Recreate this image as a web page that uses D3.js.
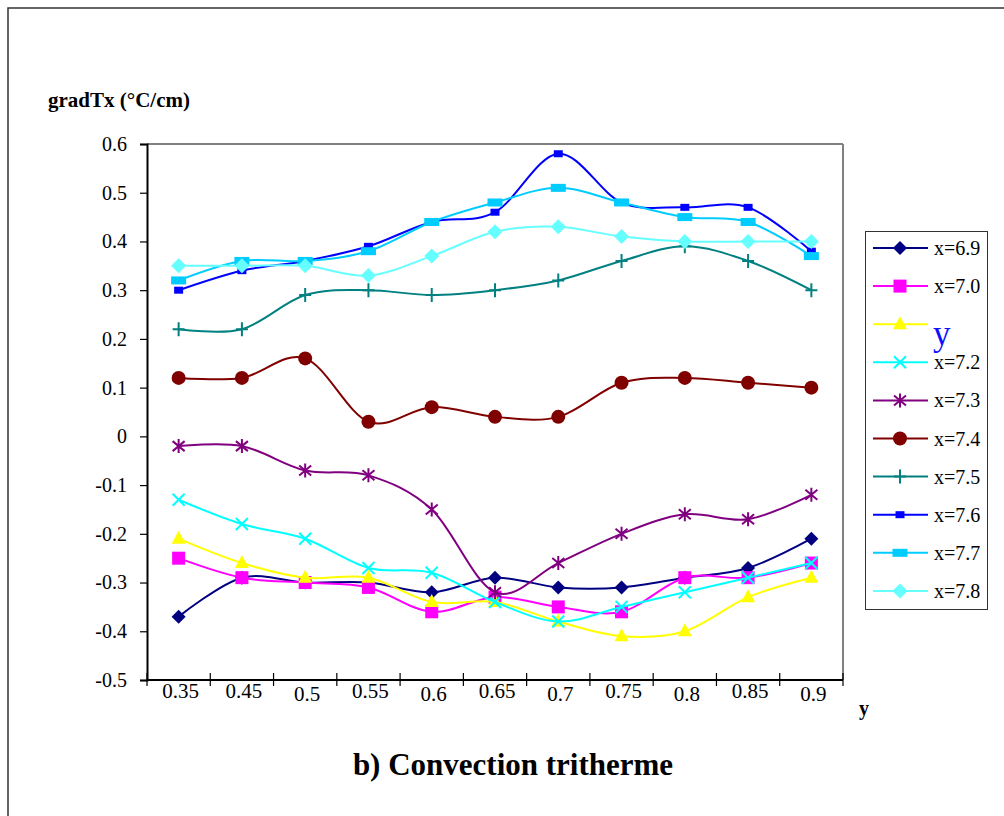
<!DOCTYPE html>
<html>
<head>
<meta charset="utf-8">
<script src="https://cdn.jsdelivr.net/npm/d3@7"></script>
<style>
  html, body { margin: 0; padding: 0; background: #fff; }
  svg { display: block; }
  svg text { font-family: "Times New Roman", "Liberation Serif", Tinos, "DejaVu Serif", serif !important; }
</style>
</head>
<body>
<svg id="chart" width="1004" height="816"></svg>
<script>
// ---- data ----
const categories = ["0.35","0.45","0.5","0.55","0.6","0.65","0.7","0.75","0.8","0.85","0.9"];
const yTicks = [-0.5,-0.4,-0.3,-0.2,-0.1,0,0.1,0.2,0.3,0.4,0.5,0.6];
const seriesNames = ["x=6.9","x=7.0","y","x=7.2","x=7.3","x=7.4","x=7.5","x=7.6","x=7.7","x=7.8"];
const x69 = [-0.37,-0.29,-0.30,-0.30,-0.32,-0.29,-0.31,-0.31,-0.29,-0.27,-0.21];
const x70 = [-0.25,-0.29,-0.30,-0.31,-0.36,-0.33,-0.35,-0.36,-0.29,-0.29,-0.26];
const x71 = [-0.21,-0.26,-0.29,-0.29,-0.34,-0.34,-0.38,-0.41,-0.40,-0.33,-0.29];
const x72 = [-0.13,-0.18,-0.21,-0.27,-0.28,-0.34,-0.38,-0.35,-0.32,-0.29,-0.26];
const x73 = [-0.02,-0.02,-0.07,-0.08,-0.15,-0.32,-0.26,-0.20,-0.16,-0.17,-0.12];
const x74 = [0.12,0.12,0.16,0.03,0.06,0.04,0.04,0.11,0.12,0.11,0.10];
const x75 = [0.22,0.22,0.29,0.30,0.29,0.30,0.32,0.36,0.39,0.36,0.30];
const x76 = [0.30,0.34,0.36,0.39,0.44,0.46,0.58,0.48,0.47,0.47,0.38];
const x77 = [0.32,0.36,0.36,0.38,0.44,0.48,0.51,0.48,0.45,0.44,0.37];
const x78 = [0.35,0.35,0.35,0.33,0.37,0.42,0.43,0.41,0.40,0.40,0.40];
const seriesValues = [x69,x70,x71,x72,x73,x74,x75,x76,x77,x78];
const seriesColors = ["#000080","#FF00FF","#FFFF00","#00FFFF","#800080","#800000","#008080","#0000FF","#00CCFF","#66FFFF"];
const seriesMarkers = ["diamond","square","triangle","x","star","circle","plus","smallrect","widerect","diamond2"];

const FONT = "'Times New Roman', 'Liberation Serif', 'DejaVu Serif', serif";

// ---- layout ----
const svg = d3.select("#chart").attr("font-family", FONT);
const L = 147, R = 843, T = 144, B = 680;

// outer frame
svg.append("rect").attr("x", 8).attr("y", 8).attr("width", 1010).attr("height", 830)
  .attr("fill", "none").attr("stroke", "#333").attr("stroke-width", 1.5);

const x = d3.scaleBand().domain(categories).range([L, R]).padding(0);
const y = d3.scaleLinear().domain([-0.5, 0.6]).range([B, T]);

// plot border (top/right gray)
svg.append("line").attr("x1", L).attr("x2", R).attr("y1", T).attr("y2", T).attr("stroke", "#808080").attr("stroke-width", 2);
svg.append("line").attr("x1", R).attr("x2", R).attr("y1", T).attr("y2", B).attr("stroke", "#808080").attr("stroke-width", 2);

// y axis
const yAxis = d3.axisLeft(y).tickValues(yTicks).tickSize(7).tickPadding(13)
  .tickFormat(d => Math.abs(d) < 1e-9 ? "0" : d.toFixed(1));
const gy = svg.append("g").attr("transform", `translate(${L},0)`).call(yAxis);
gy.attr("font-family", FONT);
gy.select(".domain").attr("stroke", "#000").attr("stroke-width", 2);
gy.selectAll(".tick line").attr("stroke", "#000").attr("stroke-width", 1.2);
gy.selectAll(".tick text").attr("font-size", 20).attr("font-family", FONT).attr("fill", "#000");

// x axis
const gx = svg.append("g").attr("transform", `translate(0,${B})`);
gx.append("line").attr("x1", L).attr("x2", R).attr("y1", 0).attr("y2", 0).attr("stroke", "#000").attr("stroke-width", 2);
const boundaries = categories.map(c => x(c)).concat([R]);
gx.selectAll("line.tk").data(boundaries).enter().append("line").attr("class", "tk")
  .attr("x1", d => d).attr("x2", d => d).attr("y1", -7).attr("y2", 6)
  .attr("stroke", "#000").attr("stroke-width", 1.2);
gx.selectAll("text.lbl").data(categories).enter().append("text").attr("class", "lbl")
  .attr("x", d => x(d) + x.bandwidth() / 2 + 2)
  .attr("y", d => d.length > 3 ? 18 : 21)
  .attr("text-anchor", "middle").attr("font-size", 21).attr("fill", "#000").text(d => d);

// axis titles
svg.append("text").attr("x", 48).attr("y", 107).attr("font-size", 21).attr("font-weight", "bold").text("gradTx (°C/cm)");
svg.append("text").attr("x", 859).attr("y", 715).attr("font-size", 20).attr("font-weight", "bold").text("y");
svg.append("text").attr("x", 513).attr("y", 775).attr("text-anchor", "middle").attr("font-size", 31).attr("font-weight", "bold").text("b) Convection tritherme");

// markers
function drawMarker(g, type, color) {
  switch (type) {
    case "diamond":
      g.append("path").attr("d", "M0,-7L7,0L0,7L-7,0Z").attr("fill", color); break;
    case "diamond2":
      g.append("path").attr("d", "M0,-7.5L7.5,0L0,7.5L-7.5,0Z").attr("fill", color); break;
    case "square":
      g.append("rect").attr("x", -6.5).attr("y", -6.5).attr("width", 13).attr("height", 13).attr("fill", color); break;
    case "triangle":
      g.append("path").attr("d", "M0,-8L7,5L-7,5Z").attr("fill", color); break;
    case "x":
      g.append("path").attr("d", "M-6,-6L6,6M-6,6L6,-6").attr("stroke", color).attr("stroke-width", 2).attr("fill", "none"); break;
    case "star":
      g.append("path").attr("d", "M-6,-5L6,5M-6,5L6,-5M0,-7L0,7").attr("stroke", color).attr("stroke-width", 2).attr("fill", "none"); break;
    case "circle":
      g.append("circle").attr("r", 7).attr("fill", color); break;
    case "plus":
      g.append("path").attr("d", "M-6,0L6,0M0,-7L0,7").attr("stroke", color).attr("stroke-width", 2).attr("fill", "none"); break;
    case "smallrect":
      g.append("rect").attr("x", -4.5).attr("y", -3.5).attr("width", 9).attr("height", 7).attr("fill", color); break;
    case "widerect":
      g.append("rect").attr("x", -7.5).attr("y", -4).attr("width", 15).attr("height", 8).attr("fill", color); break;
  }
}

// series
const line = d3.line()
  .x((d, i) => x(categories[i]) + x.bandwidth() / 2)
  .y(d => y(d))
  .curve(d3.curveCatmullRom.alpha(0));

seriesValues.forEach((vals, si) => {
  const g = svg.append("g");
  g.append("path").datum(vals).attr("d", line).attr("fill", "none")
    .attr("stroke", seriesColors[si]).attr("stroke-width", 2);
  vals.forEach((v, i) => {
    const mg = g.append("g").attr("transform", `translate(${x(categories[i]) + x.bandwidth() / 2},${y(v)})`);
    drawMarker(mg, seriesMarkers[si], seriesColors[si]);
  });
});

// legend
const lg = svg.append("g");
lg.append("rect").attr("x", 865.5).attr("y", 231.5).attr("width", 122).attr("height", 378)
  .attr("fill", "#fff").attr("stroke", "#333").attr("stroke-width", 1);
seriesNames.forEach((name, i) => {
  const cy = 248 + i * 38.1;
  lg.append("line").attr("x1", 873).attr("x2", 928).attr("y1", cy).attr("y2", cy)
    .attr("stroke", seriesColors[i]).attr("stroke-width", 2);
  const mg = lg.append("g").attr("transform", `translate(900,${cy})`);
  drawMarker(mg, seriesMarkers[i], seriesColors[i]);
  if (name === "y") {
    lg.append("text").attr("x", 933).attr("y", cy + 21).attr("font-size", 35).attr("fill", "#1010ff").text(name);
  } else {
    lg.append("text").attr("x", 934).attr("y", cy + 7).attr("font-size", 20).attr("fill", "#000").text(name);
  }
});
</script>
</body>
</html>
